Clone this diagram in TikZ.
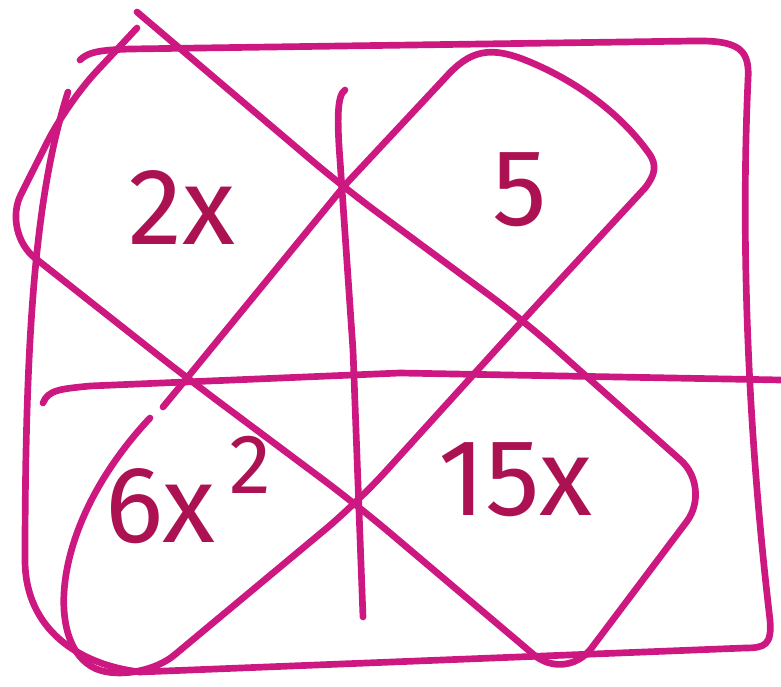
\documentclass[tikz,border=0pt]{standalone}
\usepackage{fontspec}
\setmainfont{Fira Sans}
\definecolor{marker}{RGB}{204,24,128}
\definecolor{markertext}{RGB}{172,18,82}
\begin{document}
\begin{tikzpicture}[x=1cm, y=-1cm,
  pen/.style={draw=marker, line width=1.9pt, line cap=round, line join=round},
  term/.style={text=markertext, font=\fontsize{31}{31}\selectfont, inner sep=0pt}]

  \fill[white] (0,0) rectangle (7.81,6.87);
  \useasboundingbox (0,0) rectangle (7.81,6.87);

  % --- outer frame ---
  \draw[pen] (0.80,0.60) .. controls (0.88,0.52) and (1.00,0.50) .. (1.30,0.49)
    -- (6.93,0.41) .. controls (7.40,0.40) and (7.50,0.50) .. (7.48,0.80)
    .. controls (7.40,2.60) and (7.50,4.50) .. (7.70,6.20)
    .. controls (7.72,6.45) and (7.65,6.48) .. (7.45,6.48)
    -- (1.40,6.72);
  \draw[pen] (0.68,0.92) .. controls (0.40,1.80) and (0.25,3.00) .. (0.25,5.60)
    .. controls (0.25,6.30) and (0.80,6.65) .. (1.40,6.72);

  % --- middle cross ---
  \draw[pen] (0.43,4.03) .. controls (0.48,3.90) and (0.60,3.89) .. (0.90,3.86)
    -- (4.00,3.73) -- (7.81,3.80);
  \draw[pen] (3.45,0.90) .. controls (3.37,0.95) and (3.37,1.20) .. (3.40,1.60)
    -- (3.53,3.50) -- (3.63,6.17);

  % --- loop 2x / 15x ---
  \draw[pen, rounded corners=12pt] (1.37,0.28) -- (0.67,1.03) -- (0.02,2.32)
    -- (1.87,3.78) -- (3.57,5.05) -- (5.66,6.82) -- (7.12,4.88)
    -- (5.23,3.20) -- (3.43,1.87) -- (1.37,0.12);

  % --- loop 5 / 6x^2 ---
  \draw[pen] (1.63,4.07) -- (1.87,3.78) -- (3.45,1.85) -- (4.45,0.78)
    .. controls (4.70,0.50) and (4.90,0.45) .. (5.30,0.62)
    .. controls (5.85,0.85) and (6.25,1.20) .. (6.48,1.52)
    .. controls (6.58,1.65) and (6.55,1.75) .. (6.45,1.88);
  \draw[pen, rounded corners=12pt] (6.45,1.88) -- (5.23,3.20) -- (3.57,5.03) -- (1.42,6.82)
    .. controls (0.45,6.55) and (0.45,5.30) .. (1.50,4.18);

  % --- terms ---
  \node[term] (twox) at (1.82,2.08) {2x};
  \node[term] (five) at (5.20,1.90) {5};
  \node[term] (sixxsq) at (1.88,4.90) {6x\raisebox{0.45em}{\fontsize{24}{24}\selectfont\,2}};
  \node[term] (fifteenx) at (5.15,4.80) {15x};

\end{tikzpicture}
\end{document}
